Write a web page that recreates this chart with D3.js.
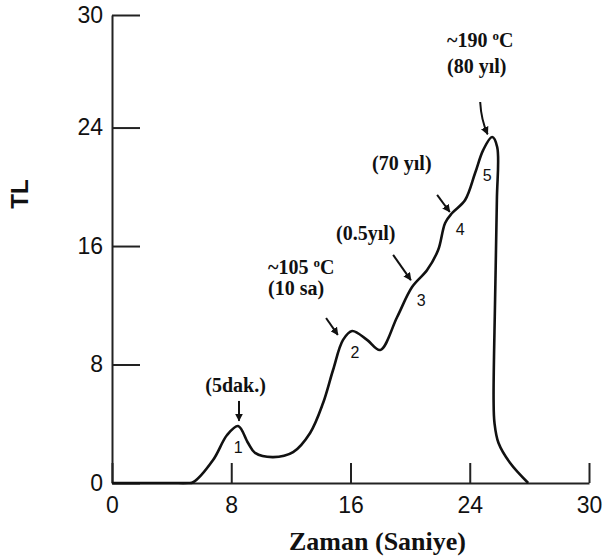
<!DOCTYPE html>
<html>
<head>
<meta charset="utf-8">
<script src="https://cdn.jsdelivr.net/npm/d3@7"></script>
<style>
  body { margin: 0; background: #fff; }
  #chart text { fill: #111; }
</style>
</head>
<body>
<div id="chart"></div>
<script>
// glow curve
const timeSec = [0, 2, 4, 5.1, 5.44, 6.78, 7.72, 8.46, 9.13, 9.6, 10.81, 12.15, 13.29, 14.16, 14.83, 15.5, 16.11, 17.11, 17.99, 19.13, 20.13, 21.14, 21.88, 22.35, 22.82, 23.69, 24.36, 24.9, 25.5, 25.84, 25.82, 25.7, 25.6, 25.66, 25.93, 26.71, 27.92];
const tlValues = [0, 0, 0, 0, 0.05, 1.55, 3.24, 3.85, 2.7, 2.03, 1.75, 2.09, 3.38, 5.4, 7.63, 9.66, 10.26, 9.66, 8.98, 11.21, 13.23, 14.38, 15.73, 17.56, 18.23, 19.11, 20.93, 22.48, 23.36, 22.69, 19.1, 12.4, 5.6, 4.05, 2.7, 1.35, 0];

const xTicks = [0, 8, 16, 24, 32];
const xTickLabels = ["0", "8", "16", "24", "30"];
const yTicks = [0, 8, 16, 24, 31.6];
const yTickLabels = ["0", "8", "16", "24", "30"];

// peak numbers
const peakNames = ["1", "2", "3", "4", "5"];
const peakX = [8.46, 16.3, 20.74, 23.36, 25.17];
const peakY = [2.43, 8.85, 12.36, 17.15, 20.8];

// arrows [x0, y0, x1, y1]
const arrows = [
    [8.52, 5.54, 8.52, 4.2],
    [14.36, 11.14, 15.15, 10.0],
    [18.86, 15.4, 20.05, 13.7],
    [21.81, 19.45, 22.66, 18.3],
    [24.7, 25.73, 25.2, 23.55]
];

// annotation lines [text, x, y, anchor, degreeSign]
const notes = [
    ["(5dak.)", 8.29, 6.14, "middle", false],
    ["~105 ", 10.47, 14.11, "start", true],
    ["(10 sa)", 10.47, 12.69, "start", false],
    ["(0.5yıl)", 15.03, 16.41, "start", false],
    ["(70 yıl)", 17.45, 21.13, "start", false],
    ["~190 ", 22.48, 29.44, "start", true],
    ["(80 yıl)", 22.48, 27.68, "start", false]
];

const width = 605;
const height = 560;

const svg = d3.select("#chart")
    .append("svg")
    .attr("width", width)
    .attr("height", height);

const x = d3.scaleLinear().domain([0, 32]).range([112, 589]);
const y = d3.scaleLinear().domain([0, 31.6]).range([483, 15]);

const serif = "'Liberation Serif', 'Times New Roman', serif";
const sans = "'Liberation Sans', Arial, Helvetica, sans-serif";

svg.append("defs").append("marker")
    .attr("id", "head")
    .attr("viewBox", "0 0 10 10")
    .attr("refX", 9)
    .attr("refY", 5)
    .attr("markerWidth", 4)
    .attr("markerHeight", 4)
    .attr("markerUnits", "strokeWidth")
    .attr("orient", "auto")
    .append("path")
    .attr("d", "M0,0 L10,5 L0,10 z")
    .attr("fill", "#111");

// axes
const xAxis = svg.append("g")
    .attr("transform", `translate(0, ${y(0)})`)
    .call(d3.axisBottom(x)
        .tickValues(xTicks)
        .tickFormat((d, i) => xTickLabels[i])
        .tickSizeInner(-20)
        .tickSizeOuter(0)
        .tickPadding(14));

const yAxis = svg.append("g")
    .attr("transform", `translate(${x(0)}, 0)`)
    .call(d3.axisLeft(y)
        .tickValues(yTicks)
        .tickFormat((d, i) => yTickLabels[i])
        .tickSizeInner(-28)
        .tickSizeOuter(0)
        .tickPadding(9));

[xAxis, yAxis].forEach(g => {
    g.select(".domain").attr("stroke", "#222").attr("stroke-width", 2);
    g.selectAll(".tick line").attr("stroke", "#222").attr("stroke-width", 2);
    g.selectAll(".tick text")
        .style("font-family", sans)
        .style("font-size", "23px")
        .attr("fill", "#222");
});

// curve
const line = d3.line()
    .x((d, i) => x(timeSec[i]))
    .y(d => y(d))
    .curve(d3.curveCatmullRom.alpha(0.5));

svg.append("path")
    .datum(tlValues)
    .attr("fill", "none")
    .attr("stroke", "#111")
    .attr("stroke-width", 2.6)
    .attr("d", line);

// peak numbers
svg.selectAll(".peak")
    .data(peakNames)
    .enter()
    .append("text")
    .attr("class", "peak")
    .attr("x", (d, i) => x(peakX[i]))
    .attr("y", (d, i) => y(peakY[i]))
    .attr("dy", "0.36em")
    .attr("text-anchor", "middle")
    .style("font-family", sans)
    .style("font-size", "16px")
    .text(d => d);

// arrows
svg.selectAll(".arrow")
    .data(arrows)
    .enter()
    .append("path")
    .attr("class", "arrow")
    .attr("d", (d, i) => {
        const x0 = x(d[0]), y0 = y(d[1]), x1 = x(d[2]), y1 = y(d[3]);
        if (i === 4) {
            return `M${x0},${y0} Q${x0 + 1},${(y0 + y1) / 2 + 2} ${x1},${y1}`;
        }
        return `M${x0},${y0} L${x1},${y1}`;
    })
    .attr("fill", "none")
    .attr("stroke", "#111")
    .attr("stroke-width", 2)
    .attr("marker-end", "url(#head)");

// notes
const noteText = svg.selectAll(".note")
    .data(notes)
    .enter()
    .append("text")
    .attr("class", "note")
    .attr("x", d => x(d[1]))
    .attr("y", d => y(d[2]))
    .attr("text-anchor", d => d[3])
    .style("font-family", serif)
    .style("font-weight", "bold")
    .style("font-size", "20px")
    .text(d => d[0]);

noteText.filter(d => d[4]).each(function() {
    const t = d3.select(this);
    t.append("tspan").attr("dy", -7).style("font-size", "13px").text("o");
    t.append("tspan").attr("dy", 7).text("C");
});

// axis titles
svg.append("text")
    .attr("x", (x(0) + x(32)) / 2 + 27)
    .attr("y", 550)
    .attr("text-anchor", "middle")
    .style("font-family", serif)
    .style("font-weight", "bold")
    .style("font-size", "26px")
    .text("Zaman (Saniye)");

svg.append("text")
    .attr("transform", "translate(28, 194) rotate(-90)")
    .attr("text-anchor", "middle")
    .style("font-family", sans)
    .style("font-weight", "bold")
    .style("font-size", "24px")
    .text("TL");
</script>
</body>
</html>
